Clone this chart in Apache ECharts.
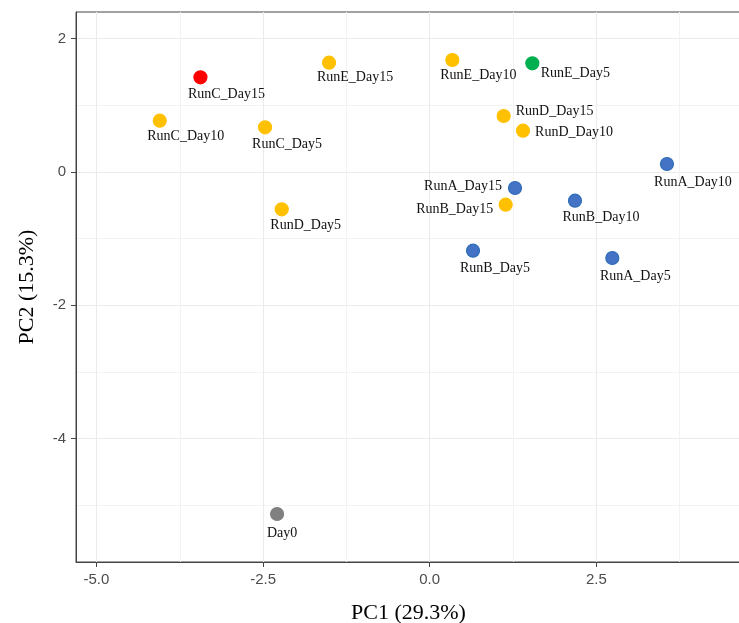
<!DOCTYPE html>
<html>
<head>
<meta charset="utf-8">
<script src="https://cdn.jsdelivr.net/npm/echarts@6/dist/echarts.min.js"></script>
<style>
html,body{margin:0;padding:0;background:#fff;}
#chart{width:739px;height:623px;}
</style>
</head>
<body>
<div id="chart"></div>
<script>
// ---- data ----
const sampleNames = ["RunC_Day15","RunC_Day10","RunC_Day5","RunE_Day15","RunD_Day5","RunE_Day10","RunE_Day5","RunD_Day15","RunD_Day10","RunA_Day10","RunA_Day15","RunB_Day15","RunB_Day10","RunB_Day5","RunA_Day5","Day0"];
const pc1 = [-3.44,-4.05,-2.47,-1.51,-2.22,0.34,1.54,1.11,1.40,3.56,1.28,1.14,2.18,0.65,2.74,-2.29];
const pc2 = [1.42,0.77,0.67,1.64,-0.56,1.68,1.63,0.84,0.62,0.12,-0.24,-0.49,-0.43,-1.18,-1.29,-5.13];
const groups = ["red","yellow","yellow","yellow","yellow","yellow","green","yellow","yellow","blue","blue","yellow","blue","blue","blue","gray"];
const xMajorTicks = [-5.0,-2.5,0.0,2.5];
const xMinorTicks = [-3.75,-1.25,1.25,3.75];
const yMajorTicks = [-4,-2,0,2];
const yMinorTicks = [-5,-3,-1,1];

// ---- styles ----
const groupFill = {red:"#FF0000", yellow:"#FFC000", green:"#00B050", blue:"#4472C4", gray:"#808080"};
const groupBorder = {red:"#FF0000", yellow:"#FFC000", green:"#00B050", blue:"#2E6DB8", gray:"#808080"};
// label offset (px) from point centre, like ggrepel placement
const labelOffset = {
  "RunC_Day15":[26,17], "RunC_Day10":[26,16], "RunC_Day5":[22,17], "RunE_Day15":[26,15],
  "RunD_Day5":[24,16], "RunE_Day10":[26,15], "RunE_Day5":[43,10], "RunD_Day15":[51,-5],
  "RunD_Day10":[51,2], "RunA_Day10":[26,18], "RunA_Day15":[-52,-2], "RunB_Day15":[-51,5],
  "RunB_Day10":[26,17], "RunB_Day5":[22,18], "RunA_Day5":[23,18], "Day0":[5,19]
};

const data = sampleNames.map((n,i)=>({
  name:n,
  value:[pc1[i],pc2[i]],
  itemStyle:{color:groupFill[groups[i]], borderColor:groupBorder[groups[i]], borderWidth:1.2, opacity:1},
  label:{offset:labelOffset[n]}
}));

const X_MIN=-5.307, X_MAX=4.671, Y_MIN=-5.85, Y_MAX=2.40;
const gridLine = "#EBEBEB", minorLine = "#F3F3F3";
const chart = echarts.init(document.getElementById('chart'), null, {renderer:'canvas'});
chart.setOption({
  animation:false,
  grid:{left:76, right:-2, top:12, bottom:61, outerBoundsMode:'none', containLabel:false, show:true, borderColor:'#444', borderWidth:1, backgroundColor:'#fff'},
  xAxis:[{
    type:'value', min:X_MIN, max:X_MAX,
    name:'PC1 (29.3%)', nameLocation:'middle', nameGap:40,
    nameTextStyle:{fontFamily:'Liberation Serif', fontSize:22, color:'#000'},
    axisLine:{show:true, onZero:false, lineStyle:{color:'#444', width:1}},
    axisTick:{show:true, length:5, customValues:xMajorTicks, lineStyle:{color:'#444'}},
    axisLabel:{customValues:xMajorTicks, formatter:v=>v.toFixed(1), color:'#4D4D4D', fontFamily:'Liberation Sans', fontSize:15, margin:10},
    splitLine:{show:true, lineStyle:{color:gridLine, width:1.1}}
  },{
    type:'value', min:X_MIN, max:X_MAX, position:'bottom',
    axisLine:{show:false}, axisLabel:{show:false},
    axisTick:{show:false, customValues:xMinorTicks},
    splitLine:{show:true, lineStyle:{color:minorLine, width:1}}
  }],
  yAxis:[{
    type:'value', min:Y_MIN, max:Y_MAX,
    name:'PC2 (15.3%)', nameLocation:'middle', nameGap:38, nameRotate:90,
    nameTextStyle:{fontFamily:'Liberation Serif', fontSize:22, color:'#000'},
    axisLine:{show:true, onZero:false, lineStyle:{color:'#444', width:1}},
    axisTick:{show:true, length:5, customValues:yMajorTicks, lineStyle:{color:'#444'}},
    axisLabel:{customValues:yMajorTicks, formatter:v=>String(v), color:'#4D4D4D', fontFamily:'Liberation Sans', fontSize:15, margin:10},
    splitLine:{show:true, lineStyle:{color:gridLine, width:1.1}}
  },{
    type:'value', min:Y_MIN, max:Y_MAX, position:'left',
    axisLine:{show:false}, axisLabel:{show:false},
    axisTick:{show:false, customValues:yMinorTicks},
    splitLine:{show:true, lineStyle:{color:minorLine, width:1}}
  }],
  series:[{
    type:'scatter', xAxisIndex:0, yAxisIndex:0,
    symbol:'circle', symbolSize:13,
    data:data,
    itemStyle:{opacity:1},
    label:{show:true, position:'inside', formatter:'{b}', fontFamily:'Liberation Serif', fontSize:14, color:'#111', opacity:1, align:'center', verticalAlign:'middle'},
    emphasis:{disabled:true}
  }]
});
</script>
</body>
</html>
